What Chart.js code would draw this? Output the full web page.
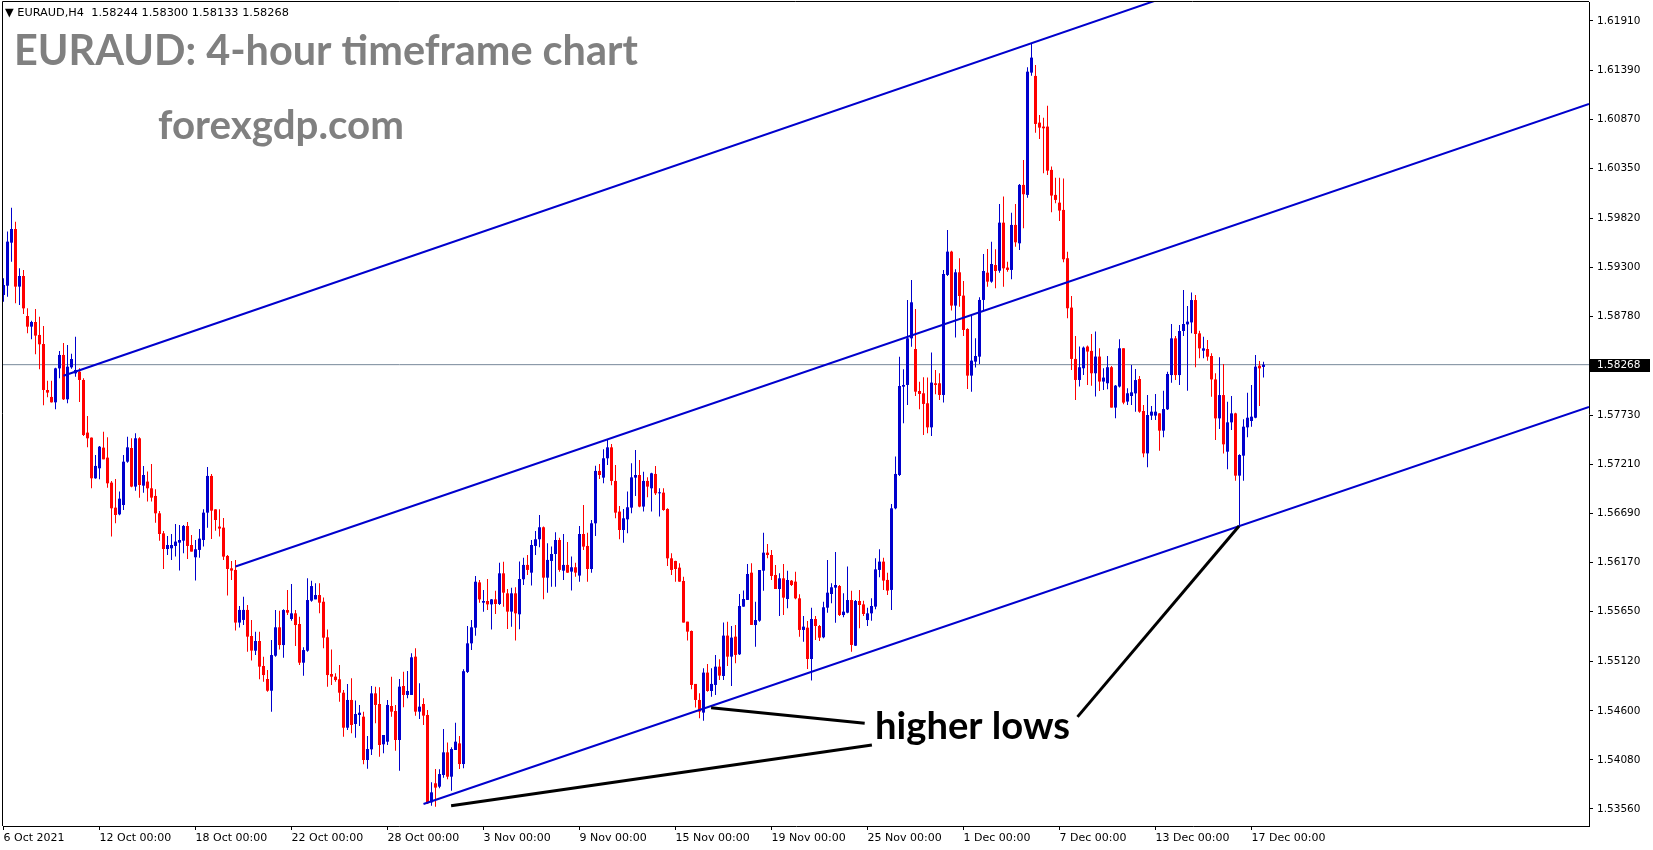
<!DOCTYPE html>
<html>
<head>
<meta charset="utf-8">
<script src="https://cdn.jsdelivr.net/npm/chart.js@4.4.1/dist/chart.umd.min.js"></script>
<style>
  html, body { margin: 0; padding: 0; background: #fff; overflow: hidden; }
  #wrap { width: 1653px; height: 850px; }
</style>
</head>
<body>
<div id="wrap"><canvas id="chart" width="1653" height="850"></canvas></div>
<script>
// EURAUD H4 candles (index 0 = 6 Oct 2021 00:00)
const opens = [
  1.59006, 1.59105, 1.59561, 1.59706, 1.59095, 1.59208, 1.58784, 1.58671, 1.58720, 1.58583,
  1.58487, 1.58000, 1.57926, 1.57869, 1.58229, 1.58371, 1.57901, 1.58240, 1.58176, 1.58194,
  1.58106, 1.57548, 1.57495, 1.57064, 1.57170, 1.57389, 1.57283, 1.57018, 1.56753, 1.56682,
  1.56781, 1.57240, 1.57385, 1.56976, 1.57488, 1.56986, 1.57029, 1.56958, 1.56877, 1.56693,
  1.56481, 1.56315, 1.56322, 1.56347, 1.56382, 1.56403, 1.56559, 1.56357, 1.56227, 1.56305,
  1.56410, 1.56700, 1.57089, 1.56735, 1.56552, 1.56541, 1.56241, 1.56110, 1.56093, 1.55535,
  1.55563, 1.55669, 1.55393, 1.55237, 1.55340, 1.55075, 1.54937, 1.54813, 1.55184, 1.55485,
  1.55297, 1.55668, 1.55573, 1.55633, 1.55520, 1.55110, 1.55237, 1.55767, 1.55781, 1.55827,
  1.55756, 1.55379, 1.54990, 1.54962, 1.54934, 1.54792, 1.54421, 1.54715, 1.54460, 1.54556,
  1.54538, 1.54079, 1.54192, 1.54785, 1.54672, 1.54245, 1.54273, 1.54651, 1.54598, 1.54291,
  1.54863, 1.54768, 1.54768, 1.55174, 1.54591, 1.54672, 1.54556, 1.53630, 1.53832, 1.53796,
  1.53920, 1.54160, 1.53902, 1.54185, 1.54255, 1.54036, 1.55012, 1.55315, 1.55481, 1.55961,
  1.55746, 1.55764, 1.55728, 1.55781, 1.55732, 1.56057, 1.55845, 1.55651, 1.55845, 1.55623,
  1.55994, 1.56146, 1.56064, 1.56347, 1.56418, 1.56545, 1.56011, 1.56188, 1.56262, 1.56410,
  1.56085, 1.56146, 1.56075, 1.56121, 1.56033, 1.56474, 1.56347, 1.56103, 1.56587, 1.57142,
  1.57071, 1.57276, 1.57392, 1.57036, 1.56711, 1.56516, 1.56629, 1.56753, 1.57071, 1.57099,
  1.56764, 1.57036, 1.56958, 1.57110, 1.56905, 1.56912, 1.56739, 1.56216, 1.56188, 1.56117,
  1.55976, 1.55545, 1.55446, 1.54885, 1.54715, 1.54581, 1.55005, 1.54810, 1.54874, 1.55068,
  1.54969, 1.55397, 1.55174, 1.55386, 1.55199, 1.55704, 1.55775, 1.56064, 1.55509, 1.55555,
  1.56085, 1.56276, 1.56251, 1.56039, 1.55891, 1.56004, 1.55785, 1.55979, 1.55969, 1.55792,
  1.55457, 1.55481, 1.55149, 1.55573, 1.55499, 1.55379, 1.55693, 1.55838, 1.55905, 1.55923,
  1.55615, 1.55640, 1.55774, 1.55290, 1.55764, 1.55728, 1.55562, 1.55633, 1.55704, 1.56093,
  1.56181, 1.55987, 1.55881, 1.56746, 1.57099, 1.58035, 1.58053, 1.58547, 1.58434, 1.57989,
  1.57965, 1.57859, 1.57604, 1.58071, 1.58071, 1.57947, 1.59219, 1.59466, 1.58894, 1.59247,
  1.59000, 1.58646, 1.58152, 1.58300, 1.58353, 1.58954, 1.59243, 1.59148, 1.59324, 1.59264,
  1.59773, 1.59297, 1.59272, 1.59749, 1.59554, 1.60173, 1.60067, 1.61363, 1.61328, 1.60833,
  1.60791, 1.60791, 1.60332, 1.60067, 1.59985, 1.59908, 1.59396, 1.58873, 1.58329, 1.58106,
  1.58230, 1.58460, 1.58414, 1.58177, 1.58354, 1.58089, 1.58071, 1.58241, 1.57813, 1.58036,
  1.58442, 1.57877, 1.57936, 1.57964, 1.58116, 1.57777, 1.57328, 1.57728, 1.57728, 1.57752,
  1.57569, 1.57795, 1.58158, 1.58547, 1.58158, 1.58625, 1.58695, 1.58716, 1.58953, 1.58600,
  1.58416, 1.58434, 1.58360, 1.58112, 1.57699, 1.57946, 1.57346, 1.57657, 1.57752, 1.57092,
  1.57304, 1.57604, 1.57671, 1.57706, 1.58257, 1.58244
];
const highs = [
  1.59183, 1.59678, 1.59932, 1.59783, 1.59289, 1.59271, 1.58865, 1.58734, 1.58858, 1.58777,
  1.58678, 1.58099, 1.58099, 1.58236, 1.58413, 1.58498, 1.58477, 1.58385, 1.58565, 1.58229,
  1.58123, 1.57724, 1.57495, 1.57311, 1.57406, 1.57558, 1.57498, 1.57036, 1.57057, 1.56923,
  1.57311, 1.57505, 1.57488, 1.57541, 1.57498, 1.57195, 1.57135, 1.57216, 1.56947, 1.56718,
  1.56506, 1.56453, 1.56474, 1.56580, 1.56569, 1.56569, 1.56601, 1.56463, 1.56410, 1.56527,
  1.56735, 1.57184, 1.57110, 1.56735, 1.56735, 1.56644, 1.56252, 1.56188, 1.56199, 1.55711,
  1.55810, 1.55722, 1.55563, 1.55439, 1.55439, 1.55174, 1.55032, 1.55350, 1.55668, 1.55661,
  1.55675, 1.55880, 1.55944, 1.55668, 1.55598, 1.55273, 1.56004, 1.55979, 1.55951, 1.55951,
  1.55802, 1.55463, 1.55251, 1.54997, 1.55085, 1.54820, 1.54884, 1.54944, 1.54708, 1.54662,
  1.54591, 1.54333, 1.54863, 1.54856, 1.54849, 1.54344, 1.54715, 1.54962, 1.54662, 1.54937,
  1.55015, 1.55022, 1.55209, 1.55262, 1.54891, 1.54732, 1.54609, 1.53842, 1.53984, 1.53980,
  1.54407, 1.54263, 1.54213, 1.54474, 1.54333, 1.55040, 1.55499, 1.55562, 1.56029, 1.55986,
  1.55880, 1.55997, 1.55785, 1.55873, 1.56170, 1.56180, 1.55891, 1.55905, 1.55909, 1.56181,
  1.56223, 1.56251, 1.56410, 1.56506, 1.56675, 1.56552, 1.56375, 1.56340, 1.56492, 1.56435,
  1.56474, 1.56389, 1.56234, 1.56170, 1.56559, 1.56781, 1.56488, 1.56622, 1.57198, 1.57216,
  1.57371, 1.57477, 1.57428, 1.57205, 1.56771, 1.56739, 1.56923, 1.57223, 1.57364, 1.57258,
  1.57134, 1.57074, 1.57124, 1.57195, 1.56958, 1.56958, 1.56746, 1.56269, 1.56191, 1.56163,
  1.56022, 1.55545, 1.55450, 1.54885, 1.54786, 1.55051, 1.55097, 1.55051, 1.55192, 1.55146,
  1.55535, 1.55545, 1.55499, 1.55510, 1.55838, 1.55874, 1.56156, 1.56163, 1.55757, 1.56092,
  1.56488, 1.56368, 1.56304, 1.56145, 1.56057, 1.56156, 1.56085, 1.55986, 1.56075, 1.55834,
  1.55605, 1.55552, 1.55693, 1.55605, 1.55510, 1.55757, 1.56198, 1.55951, 1.56283, 1.55933,
  1.55845, 1.56128, 1.55873, 1.55774, 1.55880, 1.55767, 1.55693, 1.55792, 1.56216, 1.56312,
  1.56223, 1.56064, 1.56792, 1.57294, 1.58353, 1.58219, 1.58954, 1.59166, 1.58858, 1.58088,
  1.58134, 1.58131, 1.58396, 1.58212, 1.58177, 1.59272, 1.59695, 1.59476, 1.59279, 1.59395,
  1.59155, 1.58653, 1.58805, 1.58547, 1.58982, 1.59441, 1.59494, 1.59572, 1.59490, 1.59971,
  1.60049, 1.59360, 1.59879, 1.59971, 1.60183, 1.60437, 1.61419, 1.61674, 1.61444, 1.60914,
  1.60886, 1.61013, 1.60367, 1.60250, 1.60250, 1.60240, 1.59466, 1.58996, 1.58573, 1.58460,
  1.58460, 1.58470, 1.58594, 1.58619, 1.58442, 1.58230, 1.58361, 1.58255, 1.58053, 1.58537,
  1.58442, 1.58018, 1.58264, 1.58222, 1.58148, 1.57841, 1.57946, 1.57830, 1.57957, 1.57752,
  1.57992, 1.58194, 1.58699, 1.58572, 1.58688, 1.59059, 1.58890, 1.59034, 1.59006, 1.58628,
  1.58565, 1.58529, 1.58388, 1.58176, 1.58346, 1.58275, 1.57876, 1.57936, 1.57759, 1.57318,
  1.57689, 1.57971, 1.58053, 1.58370, 1.58307, 1.58300
];
const lows = [
  1.58936, 1.58989, 1.59360, 1.58918, 1.58900, 1.58805, 1.58600, 1.58537, 1.58378, 1.58219,
  1.57837, 1.57922, 1.57866, 1.57795, 1.58123, 1.57894, 1.57859, 1.58226, 1.58141, 1.57873,
  1.57512, 1.57392, 1.56958, 1.57060, 1.57053, 1.57265, 1.56965, 1.56446, 1.56587, 1.56672,
  1.56728, 1.57230, 1.56969, 1.56933, 1.56859, 1.56912, 1.56817, 1.56817, 1.56594, 1.56403,
  1.56103, 1.56252, 1.56199, 1.56234, 1.56086, 1.56269, 1.56209, 1.56287, 1.55980, 1.56223,
  1.56340, 1.56541, 1.56421, 1.56509, 1.56446, 1.56199, 1.55821, 1.55987, 1.55450, 1.55482,
  1.55510, 1.55227, 1.55132, 1.55191, 1.54934, 1.54909, 1.54803, 1.54591, 1.55174, 1.55251,
  1.55163, 1.55615, 1.55555, 1.55287, 1.55085, 1.54972, 1.55227, 1.55756, 1.55781, 1.55633,
  1.55262, 1.54856, 1.54873, 1.54909, 1.54697, 1.54326, 1.54397, 1.54361, 1.54315, 1.54439,
  1.54033, 1.53987, 1.54132, 1.54467, 1.54114, 1.54150, 1.54238, 1.54538, 1.54178, 1.53966,
  1.54637, 1.54732, 1.54768, 1.54549, 1.54513, 1.54450, 1.53613, 1.53595, 1.53584, 1.53779,
  1.53892, 1.53874, 1.53754, 1.54185, 1.53984, 1.53991, 1.55002, 1.55244, 1.55396, 1.55746,
  1.55651, 1.55668, 1.55463, 1.55626, 1.55721, 1.55704, 1.55467, 1.55492, 1.55344, 1.55464,
  1.55934, 1.56040, 1.55927, 1.56251, 1.56333, 1.55782, 1.55852, 1.55916, 1.55916, 1.56075,
  1.55987, 1.56064, 1.55874, 1.56022, 1.55969, 1.56305, 1.55969, 1.56064, 1.56453, 1.57057,
  1.57011, 1.57205, 1.56990, 1.56640, 1.56418, 1.56382, 1.56481, 1.56693, 1.56877, 1.56757,
  1.56711, 1.56863, 1.56711, 1.56887, 1.56658, 1.56721, 1.56135, 1.56040, 1.55969, 1.55969,
  1.55535, 1.55344, 1.54828, 1.54634, 1.54521, 1.54496, 1.54803, 1.54750, 1.54768, 1.54927,
  1.54927, 1.55075, 1.54863, 1.55104, 1.55192, 1.55704, 1.55775, 1.55510, 1.55280, 1.55545,
  1.55873, 1.56216, 1.55986, 1.55891, 1.55605, 1.55615, 1.55686, 1.55923, 1.55781, 1.55386,
  1.55333, 1.55043, 1.54920, 1.55351, 1.55340, 1.55368, 1.55640, 1.55739, 1.55534, 1.55605,
  1.55591, 1.55633, 1.55227, 1.55287, 1.55474, 1.55605, 1.55499, 1.55555, 1.55675, 1.56015,
  1.55881, 1.55828, 1.55669, 1.56736, 1.57089, 1.57647, 1.57841, 1.58459, 1.57936, 1.57795,
  1.57523, 1.57541, 1.57513, 1.57954, 1.57894, 1.57866, 1.59208, 1.58841, 1.58555, 1.58883,
  1.58572, 1.58011, 1.57982, 1.58237, 1.58275, 1.58848, 1.59095, 1.59137, 1.59077, 1.59243,
  1.59095, 1.59254, 1.59173, 1.59519, 1.59484, 1.59713, 1.60038, 1.61331, 1.60727, 1.60660,
  1.60296, 1.60279, 1.59883, 1.59978, 1.59791, 1.59353, 1.58760, 1.58212, 1.57894, 1.58036,
  1.58159, 1.58053, 1.58046, 1.57930, 1.57990, 1.58000, 1.58008, 1.57813, 1.57700, 1.58025,
  1.57849, 1.57842, 1.57841, 1.57770, 1.57759, 1.57286, 1.57180, 1.57682, 1.57682, 1.57357,
  1.57498, 1.57788, 1.58077, 1.58105, 1.58052, 1.58572, 1.57992, 1.58600, 1.58240, 1.58335,
  1.58335, 1.58310, 1.57929, 1.57470, 1.57586, 1.57328, 1.57159, 1.57576, 1.57039, 1.56558,
  1.57039, 1.57498, 1.57611, 1.57699, 1.57830, 1.58133
];
const closes = [
  1.59112, 1.59572, 1.59706, 1.59095, 1.59208, 1.58865, 1.58671, 1.58720, 1.58576, 1.58484,
  1.58000, 1.57972, 1.57869, 1.58229, 1.58371, 1.57901, 1.58247, 1.58328, 1.58212, 1.58106,
  1.57523, 1.57488, 1.57064, 1.57195, 1.57399, 1.57265, 1.57011, 1.56746, 1.56675, 1.56848,
  1.57240, 1.57392, 1.56976, 1.57488, 1.56993, 1.57099, 1.56958, 1.56859, 1.56693, 1.56474,
  1.56315, 1.56357, 1.56357, 1.56393, 1.56410, 1.56559, 1.56347, 1.56287, 1.56312, 1.56425,
  1.56700, 1.57089, 1.56721, 1.56622, 1.56531, 1.56234, 1.56103, 1.56086, 1.55535, 1.55669,
  1.55669, 1.55386, 1.55238, 1.55340, 1.55068, 1.54979, 1.54813, 1.55191, 1.55485, 1.55297,
  1.55668, 1.55640, 1.55633, 1.55509, 1.55110, 1.55244, 1.55774, 1.55922, 1.55827, 1.55746,
  1.55375, 1.54979, 1.54962, 1.54926, 1.54792, 1.54421, 1.54715, 1.54450, 1.54566, 1.54580,
  1.54079, 1.54195, 1.54785, 1.54662, 1.54238, 1.54344, 1.54662, 1.54591, 1.54291, 1.54856,
  1.54768, 1.54810, 1.55167, 1.54591, 1.54644, 1.54549, 1.53620, 1.53736, 1.53786, 1.53930,
  1.54160, 1.53902, 1.54195, 1.54273, 1.54036, 1.55020, 1.55315, 1.55485, 1.55968, 1.55781,
  1.55764, 1.55728, 1.55781, 1.55732, 1.56057, 1.55852, 1.55651, 1.55845, 1.55633, 1.55997,
  1.56146, 1.56093, 1.56357, 1.56418, 1.56545, 1.56011, 1.56199, 1.56262, 1.56410, 1.56093,
  1.56146, 1.56064, 1.56121, 1.56064, 1.56474, 1.56340, 1.56103, 1.56587, 1.57142, 1.57099,
  1.57276, 1.57392, 1.57036, 1.56700, 1.56516, 1.56640, 1.56757, 1.57074, 1.57099, 1.56764,
  1.57036, 1.56976, 1.57117, 1.56905, 1.56912, 1.56728, 1.56216, 1.56093, 1.56103, 1.55969,
  1.55535, 1.55439, 1.54874, 1.54715, 1.54592, 1.55005, 1.54810, 1.54885, 1.55068, 1.54973,
  1.55397, 1.55174, 1.55376, 1.55192, 1.55711, 1.55785, 1.56050, 1.55510, 1.55562, 1.56092,
  1.56276, 1.56251, 1.56029, 1.55891, 1.56004, 1.55799, 1.55986, 1.55933, 1.55792, 1.55457,
  1.55492, 1.55149, 1.55573, 1.55499, 1.55375, 1.55697, 1.55852, 1.55909, 1.55933, 1.55615,
  1.55651, 1.55774, 1.55298, 1.55764, 1.55721, 1.55626, 1.55633, 1.55711, 1.56099, 1.56181,
  1.55980, 1.55874, 1.56746, 1.57110, 1.58042, 1.58053, 1.58547, 1.58929, 1.57982, 1.57958,
  1.57852, 1.57604, 1.58078, 1.58053, 1.57947, 1.59229, 1.59466, 1.58894, 1.59247, 1.58996,
  1.58636, 1.58152, 1.58311, 1.58360, 1.58954, 1.59261, 1.59148, 1.59335, 1.59261, 1.59773,
  1.59289, 1.59272, 1.59749, 1.59565, 1.60173, 1.60074, 1.61373, 1.61522, 1.60819, 1.60780,
  1.60773, 1.60324, 1.60060, 1.60014, 1.59901, 1.59385, 1.58866, 1.58329, 1.58106, 1.58241,
  1.58449, 1.58407, 1.58177, 1.58354, 1.58089, 1.58131, 1.58241, 1.57813, 1.58046, 1.58442,
  1.57866, 1.57965, 1.57975, 1.58105, 1.57770, 1.57328, 1.57735, 1.57770, 1.57770, 1.57569,
  1.57798, 1.58169, 1.58547, 1.58158, 1.58625, 1.58699, 1.58724, 1.58953, 1.58593, 1.58441,
  1.58441, 1.58353, 1.58112, 1.57699, 1.57946, 1.57424, 1.57657, 1.57752, 1.57092, 1.57311,
  1.57611, 1.57706, 1.57717, 1.58247, 1.58229, 1.58268
];

// time axis labels sit on every 24th bar
const dateTicks = [0, 24, 48, 72, 96, 120, 144, 168, 192, 216, 240, 264, 288, 312];
const dateLabels = ['6 Oct 2021', '12 Oct 00:00', '18 Oct 00:00', '22 Oct 00:00', '28 Oct 00:00',
  '3 Nov 00:00', '9 Nov 00:00', '15 Nov 00:00', '19 Nov 00:00', '25 Nov 00:00',
  '1 Dec 00:00', '7 Dec 00:00', '13 Dec 00:00', '17 Dec 00:00'];
const priceTicks = [1.61910, 1.61390, 1.60870, 1.60350, 1.59820, 1.59300, 1.58780, 1.57730,
  1.57210, 1.56690, 1.56170, 1.55650, 1.55120, 1.54600, 1.54080, 1.53560];

// drawn objects: [bar index, price]
const upperLine = [[15, 1.58151], [396.375, 1.63704]];
const middleLine = [[58, 1.56130], [396.375, 1.61030]];
const lowerLine = [[105, 1.53613], [396.375, 1.57821]];
const pointerA = [[176.9, 1.54633], [215.3, 1.54469]];
const pointerB = [[111.9, 1.53594], [217.1, 1.54238]];
const pointerC = [[308.9, 1.56558], [268.5, 1.54536]];
const noteAnchor = [217.9, 1.54301];

const BULL = '#0000cd';
const BEAR = '#ff0000';
const CHANNEL = '#0000cd';
const AXIS_FONT = 'DejaVu Sans';

const idx = opens.map((_, i) => i);
const candleColors = idx.map(i => closes[i] >= opens[i] ? BULL : BEAR);
const last = opens.length - 1;

function toPoints(arr) {
  return arr.map(p => ({ x: p[0], y: p[1] }));
}

function lineSet(points, color, width, order) {
  return {
    type: 'line',
    data: toPoints(points),
    borderColor: color,
    borderWidth: width,
    pointRadius: 0,
    fill: false,
    tension: 0,
    clip: 0,
    order: order
  };
}

function fitFont(ctx, text, weight, family, width) {
  ctx.font = weight + ' 100px ' + family;
  const size = 100 * width / ctx.measureText(text).width;
  ctx.font = weight + ' ' + size.toFixed(2) + 'px ' + family;
}

const overlayText = {
  id: 'overlayText',
  afterDatasetsDraw(chart) {
    const ctx = chart.ctx;
    const a = chart.chartArea;
    const xs = chart.scales.x;
    const ys = chart.scales.y;
    ctx.save();

    // left and top frame
    ctx.strokeStyle = '#000';
    ctx.lineWidth = 1;
    ctx.beginPath();
    ctx.moveTo(a.left - 0.5, a.bottom);
    ctx.lineTo(a.left - 0.5, a.top - 0.5);
    ctx.lineTo(a.right, a.top - 0.5);
    ctx.stroke();

    // header line
    const head = '\u25BC EURAUD,H4  ' + opens[last].toFixed(5) + ' ' + highs[last].toFixed(5) + ' ' +
      lows[last].toFixed(5) + ' ' + closes[last].toFixed(5);
    ctx.fillStyle = '#000';
    ctx.textBaseline = 'middle';
    ctx.textAlign = 'left';
    fitFont(ctx, head, 'normal', '"' + AXIS_FONT + '"', 284);
    ctx.fillText(head, 5, 13);

    // title and site name
    ctx.textBaseline = 'alphabetic';
    ctx.fillStyle = '#808080';
    fitFont(ctx, 'EURAUD: 4-hour timeframe chart', 'bold', 'Lato', 624);
    ctx.fillText('EURAUD: 4-hour timeframe chart', 14, 65);
    fitFont(ctx, 'forexgdp.com', 'bold', 'Lato', 246);
    ctx.fillText('forexgdp.com', 158, 139);

    // note
    ctx.fillStyle = '#000';
    fitFont(ctx, 'higher lows', 'bold', 'Lato', 195);
    ctx.fillText('higher lows', xs.getPixelForValue(noteAnchor[0]), ys.getPixelForValue(noteAnchor[1]));

    // current price box on the axis
    const py = ys.getPixelForValue(closes[last]);
    ctx.fillStyle = '#000';
    ctx.fillRect(a.right + 1, Math.round(py) - 6, 60, 13);
    ctx.fillStyle = '#fff';
    ctx.textBaseline = 'middle';
    ctx.font = '10.5px "' + AXIS_FONT + '"';
    ctx.fillText(closes[last].toFixed(5), a.right + 8, Math.round(py) + 0.5);
    ctx.restore();
  }
};

new Chart(document.getElementById('chart'), {
  type: 'bar',
  data: {
    datasets: [
      lineSet(pointerA, '#000', 3, 0),
      lineSet(pointerB, '#000', 3, 0),
      lineSet(pointerC, '#000', 3, 0),
      lineSet(upperLine, CHANNEL, 2, 1),
      lineSet(middleLine, CHANNEL, 2, 1),
      lineSet(lowerLine, CHANNEL, 2, 1),
      {
        label: 'body',
        data: idx.map(i => ({ x: i, y: [Math.min(opens[i], closes[i]), Math.max(opens[i], closes[i])] })),
        backgroundColor: candleColors,
        barThickness: 3,
        minBarLength: 1,
        inflateAmount: 0,
        grouped: false,
        order: 2
      },
      {
        label: 'wick',
        data: idx.map(i => ({ x: i, y: [lows[i], highs[i]] })),
        backgroundColor: candleColors,
        barThickness: 1,
        minBarLength: 1,
        inflateAmount: 0,
        grouped: false,
        order: 3
      },
      lineSet([[-0.125, closes[last]], [396.375, closes[last]]], '#778899', 1, 4)
    ]
  },
  options: {
    responsive: false,
    devicePixelRatio: 1,
    animation: false,
    events: [],
    layout: { padding: { left: 3, top: 2, right: 0, bottom: 0 } },
    plugins: {
      legend: { display: false },
      tooltip: { enabled: false }
    },
    scales: {
      x: {
        type: 'linear',
        min: -0.125,
        max: 396.375,
        offset: false,
        afterBuildTicks: s => { s.ticks = dateTicks.map(v => ({ value: v })); },
        afterFit: s => { s.height = 24; s.paddingLeft = 0; s.paddingRight = 0; },
        grid: { offset: false, drawOnChartArea: false, drawTicks: true, tickLength: 4, color: '#000' },
        border: { display: true, color: '#000' },
        ticks: {
          autoSkip: false,
          maxRotation: 0,
          align: 'start',
          padding: 2,
          color: '#000',
          font: { family: AXIS_FONT, size: 11 },
          callback: (v, i) => dateLabels[i]
        }
      },
      y: {
        position: 'right',
        min: 1.533794,
        max: 1.621113,
        afterBuildTicks: s => { s.ticks = priceTicks.map(v => ({ value: v })); },
        afterFit: s => { s.width = 64; s.paddingTop = 0; s.paddingBottom = 0; },
        grid: { drawOnChartArea: false, drawTicks: true, tickLength: 4, color: '#000' },
        border: { display: true, color: '#000' },
        ticks: {
          padding: 4,
          color: '#000',
          font: { family: AXIS_FONT, size: 10.5 },
          callback: v => Number(v).toFixed(5)
        }
      }
    }
  },
  plugins: [overlayText]
});
</script>
</body>
</html>
